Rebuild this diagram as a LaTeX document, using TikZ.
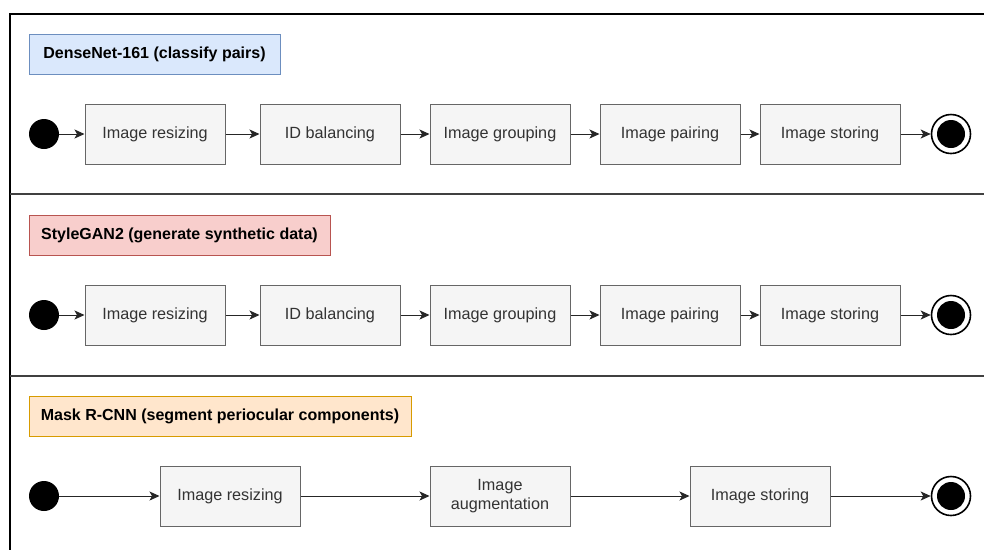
\documentclass[tikz,border=0pt]{standalone}
\usepackage{fontspec}
\setmainfont{Liberation Sans}
\usepackage{xcolor}
\usetikzlibrary{positioning,arrows.meta}

\definecolor{procfill}{HTML}{F5F5F5}
\definecolor{procline}{HTML}{666666}
\definecolor{proctext}{HTML}{333333}
\definecolor{bluefill}{HTML}{DAE8FC}
\definecolor{blueline}{HTML}{6C8EBF}
\definecolor{redfill}{HTML}{F8CECC}
\definecolor{redline}{HTML}{B85450}
\definecolor{orangefill}{HTML}{FFE6CC}
\definecolor{orangeline}{HTML}{D79B00}

\begin{document}
\begin{tikzpicture}[x=1pt, y=-1pt,
	proc/.style={rectangle, draw=procline, fill=procfill, text=proctext, line width=1pt,
		minimum width=140pt, minimum height=60pt, inner sep=2pt, align=center,
		font=\fontsize{16.2}{19}\selectfont},
	lane/.style={rectangle, line width=1pt, minimum height=40pt, inner sep=2pt,
		font=\fontsize{16}{19}\selectfont\bfseries},
	initial/.style={circle, fill=black, minimum size=30pt, inner sep=0pt},
	final/.style={circle, draw=black, line width=1.6pt, fill=white, minimum size=39pt, inner sep=0pt,
		path picture={\fill[black] (path picture bounding box.center) circle (14pt);}},
	arrow/.style={-{Stealth[length=10pt,width=9pt,inset=2.5pt]}, line width=1pt, black!85},
	divider/.style={black!75, line width=1.6pt}
	]
	\useasboundingbox (0,0) rectangle (984,550);

	% ===== FRAME =====
	\draw[line width=1.3pt] (984,14) -- (10,14) -- (10,550);
	\draw[divider] (10,194) -- (984,194);
	\draw[divider] (10,376) -- (984,376);

	% ===== LANE 1: DenseNet-161 =====
	\node[lane, draw=blueline, fill=bluefill, minimum width=251pt] (T1) at (154.5,54.5) {DenseNet-161 (classify pairs)};
	\node[initial] (S1) at (44,134) {};
	\node[proc] (A1) at (155,134) {Image resizing};
	\node[proc] (B1) at (330,134) {ID balancing};
	\node[proc] (C1) at (500,134) {Image grouping};
	\node[proc] (D1) at (670,134) {Image pairing};
	\node[proc] (E1) at (830,134) {Image storing};
	\node[final] (F1) at (951,134) {};

	% ===== LANE 2: StyleGAN2 =====
	\node[lane, draw=redline, fill=redfill, minimum width=301pt] (T2) at (179.5,235) {StyleGAN2 (generate synthetic data)};
	\node[initial] (S2) at (44,315) {};
	\node[proc] (A2) at (155,315) {Image resizing};
	\node[proc] (B2) at (330,315) {ID balancing};
	\node[proc] (C2) at (500,315) {Image grouping};
	\node[proc] (D2) at (670,315) {Image pairing};
	\node[proc] (E2) at (830,315) {Image storing};
	\node[final] (F2) at (951,315) {};

	% ===== LANE 3: Mask R-CNN =====
	\node[lane, draw=orangeline, fill=orangefill, minimum width=382pt] (T3) at (220,416) {Mask R-CNN (segment periocular components)};
	\node[initial] (S3) at (44,496) {};
	\node[proc] (A3) at (230,496) {Image resizing};
	\node[proc] (B3) at (500,496) {Image\\augmentation};
	\node[proc] (C3) at (760,496) {Image storing};
	\node[final] (F3) at (951,496) {};

	% ===== ARROWS =====
	\draw[arrow] (S1) -- (A1);
	\draw[arrow] (A1) -- (B1);
	\draw[arrow] (B1) -- (C1);
	\draw[arrow] (C1) -- (D1);
	\draw[arrow] (D1) -- (E1);
	\draw[arrow] (E1) -- (F1);

	\draw[arrow] (S2) -- (A2);
	\draw[arrow] (A2) -- (B2);
	\draw[arrow] (B2) -- (C2);
	\draw[arrow] (C2) -- (D2);
	\draw[arrow] (D2) -- (E2);
	\draw[arrow] (E2) -- (F2);

	\draw[arrow] (S3) -- (A3);
	\draw[arrow] (A3) -- (B3);
	\draw[arrow] (B3) -- (C3);
	\draw[arrow] (C3) -- (F3);
\end{tikzpicture}
\end{document}
